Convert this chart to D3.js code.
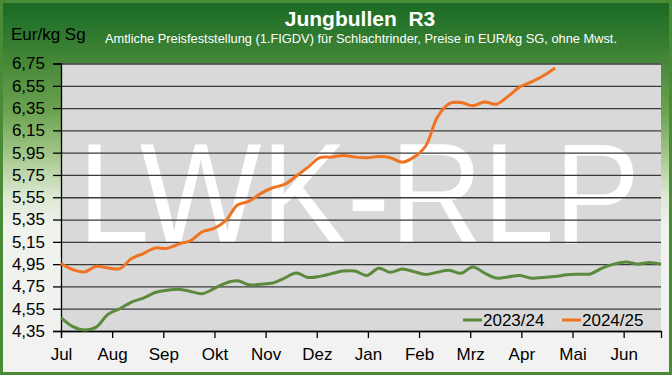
<!DOCTYPE html>
<html>
<head>
<meta charset="utf-8">
<script src="https://cdn.jsdelivr.net/npm/d3@7"></script>
<style>
  body { margin: 0; background: #fff; }
  svg { display: block; font-family: "Liberation Sans", Arial, sans-serif; }
</style>
</head>
<body>
<svg width="672" height="375"></svg>
<script>
// month labels on the x axis
var months = ['Jul', 'Aug', 'Sep', 'Okt', 'Nov', 'Dez', 'Jan', 'Feb', 'Mrz', 'Apr', 'Mai', 'Jun']
// y axis ticks
var yTicks = [4.35, 4.55, 4.75, 4.95, 5.15, 5.35, 5.55, 5.75, 5.95, 6.15, 6.35, 6.55, 6.75]

// weekly prices, week 0 = first week of July
var series2324 = [
    4.47, 4.39, 4.36, 4.385, 4.50, 4.55, 4.61, 4.645, 4.695, 4.715,
    4.725, 4.705, 4.685, 4.73, 4.78, 4.80, 4.765, 4.77, 4.78, 4.825,
    4.87, 4.83, 4.84, 4.865, 4.888, 4.888, 4.848, 4.913, 4.877, 4.907,
    4.883, 4.858, 4.878, 4.895, 4.868, 4.925, 4.87, 4.825, 4.835, 4.847,
    4.824, 4.83, 4.838, 4.855, 4.86, 4.862, 4.915, 4.95, 4.97, 4.95,
    4.965, 4.95
]
var series2425 = [
    4.955, 4.90, 4.88, 4.93, 4.915, 4.91, 5.00, 5.045, 5.095, 5.09,
    5.13, 5.16, 5.24, 5.27, 5.34, 5.48, 5.515, 5.585, 5.635, 5.665,
    5.74, 5.82, 5.905, 5.91, 5.925, 5.91, 5.905, 5.915, 5.905, 5.865,
    5.91, 6.01, 6.27, 6.39, 6.40, 6.37, 6.405, 6.385, 6.455, 6.54,
    6.585, 6.64, 6.71
]
var seriesNames = ['2023/24', '2024/25']
var seriesColors = ['#5b8a3c', '#f07322']

var width = 672
var height = 375
var plot = { left: 61, right: 661, top: 63.5, bottom: 331 }

var svg = d3.select('svg')
var defs = svg.append('defs')

// background gradient, dark green on top fading to light grey
var grad = defs.append('linearGradient')
    .attr('id', 'bg')
    .attr('gradientUnits', 'userSpaceOnUse')
    .attr('x1', 0).attr('y1', 0).attr('x2', 0).attr('y2', height)
var stops = [[0, '#1a6823'], [0.08, '#2b772d'], [0.17, '#488939'], [0.3, '#6ca352'],
    [0.42, '#a8c98f'], [0.52, '#dbe8d1'], [0.6, '#eff2ed'], [1, '#f2f2f2']]
stops.forEach(function (s) {
    grad.append('stop').attr('offset', s[0]).attr('stop-color', s[1])
})

svg.append('rect')
    .attr('x', 1.5).attr('y', 1.5)
    .attr('width', width - 3).attr('height', height - 3)
    .attr('fill', 'url(#bg)')
    .attr('stroke', '#4a8b35')
    .attr('stroke-width', 3)

// scales
var xWeek = d3.scaleLinear().domain([0, 51]).range([plot.left, plot.right])
var xMonth = d3.scaleLinear().domain([0, 11.73]).range([plot.left, plot.right])
var y = d3.scaleLinear().domain([4.35, 6.75]).range([plot.bottom, plot.top])

// plot area
svg.append('rect')
    .attr('x', plot.left).attr('y', plot.top)
    .attr('width', plot.right - plot.left).attr('height', plot.bottom - plot.top)
    .attr('fill', '#d9d9d9')

// watermark sits behind the grid
svg.append('text')
    .attr('x', 78)
    .attr('y', 243)
    .attr('font-size', 142)
    .attr('textLength', 562)
    .attr('lengthAdjust', 'spacingAndGlyphs')
    .attr('fill', '#ffffff')
    .text('LWK-RLP')

// gridlines
var grid = svg.append('g')
    .attr('transform', 'translate(' + plot.left + ',0)')
    .call(d3.axisLeft(y).tickValues(yTicks).tickSize(-(plot.right - plot.left)).tickFormat(''))
grid.select('.domain').remove()
grid.selectAll('line').attr('stroke', '#3a3a3a').attr('stroke-width', 1.3)

// y axis
var yAxis = svg.append('g')
    .attr('transform', 'translate(' + plot.left + ',0)')
    .call(d3.axisLeft(y).tickValues(yTicks).tickSize(8).tickPadding(8)
        .tickFormat(function (d) { return d3.format('.2f')(d).replace('.', ',') }))
yAxis.select('.domain').attr('stroke', '#000').attr('stroke-width', 1.3)
yAxis.selectAll('line').attr('stroke', '#000').attr('stroke-width', 1.3)
yAxis.selectAll('text')
    .attr('font-size', 17)
    .attr('font-family', '"Liberation Sans", Arial, sans-serif')
    .attr('fill', '#000')

// x axis
var xAxis = svg.append('g')
    .attr('transform', 'translate(0,' + plot.bottom + ')')
    .call(d3.axisBottom(xMonth).tickValues(d3.range(months.length)).tickSize(7).tickPadding(10)
        .tickFormat(function (d) { return months[d] }))
xAxis.select('.domain').attr('stroke', '#000').attr('stroke-width', 1.3)
xAxis.selectAll('line').attr('stroke', '#000').attr('stroke-width', 1.3)
xAxis.selectAll('text')
    .attr('font-size', 17)
    .attr('font-family', '"Liberation Sans", Arial, sans-serif')
    .attr('fill', '#000')

// lines
var line = d3.line()
    .x(function (d, i) { return xWeek(i) })
    .y(function (d) { return y(d) })
    .curve(d3.curveCatmullRom.alpha(0.5))

;[series2324, series2425].forEach(function (s, i) {
    svg.append('path')
        .datum(s)
        .attr('fill', 'none')
        .attr('stroke', seriesColors[i])
        .attr('stroke-width', 3)
        .attr('stroke-linejoin', 'round')
        .attr('d', line)
})

// legend
var legendX = [463, 562]
seriesNames.forEach(function (name, i) {
    var g = svg.append('g').attr('transform', 'translate(' + legendX[i] + ',320)')
    g.append('line')
        .attr('x1', 0).attr('x2', 19)
        .attr('stroke', seriesColors[i])
        .attr('stroke-width', 3)
    g.append('text')
        .attr('x', 20)
        .attr('y', 6)
        .attr('font-size', 17)
        .attr('fill', '#000')
        .text(name)
})

// titles
svg.append('text')
    .attr('x', 360).attr('y', 26)
    .attr('text-anchor', 'middle')
    .attr('font-size', 21)
    .attr('font-weight', 'bold')
    .attr('fill', '#fff')
    .style('white-space', 'pre')
    .text('Jungbullen  R3')
svg.append('text')
    .attr('x', 105).attr('y', 43)
    .attr('font-size', 12)
    .attr('textLength', 512)
    .attr('lengthAdjust', 'spacingAndGlyphs')
    .attr('fill', '#fff')
    .text('Amtliche Preisfeststellung (1.FIGDV) für Schlachtrinder, Preise in EUR/kg SG, ohne Mwst.')
svg.append('text')
    .attr('x', 11).attr('y', 40)
    .attr('font-size', 17)
    .attr('fill', '#000')
    .text('Eur/kg Sg')
</script>
</body>
</html>
